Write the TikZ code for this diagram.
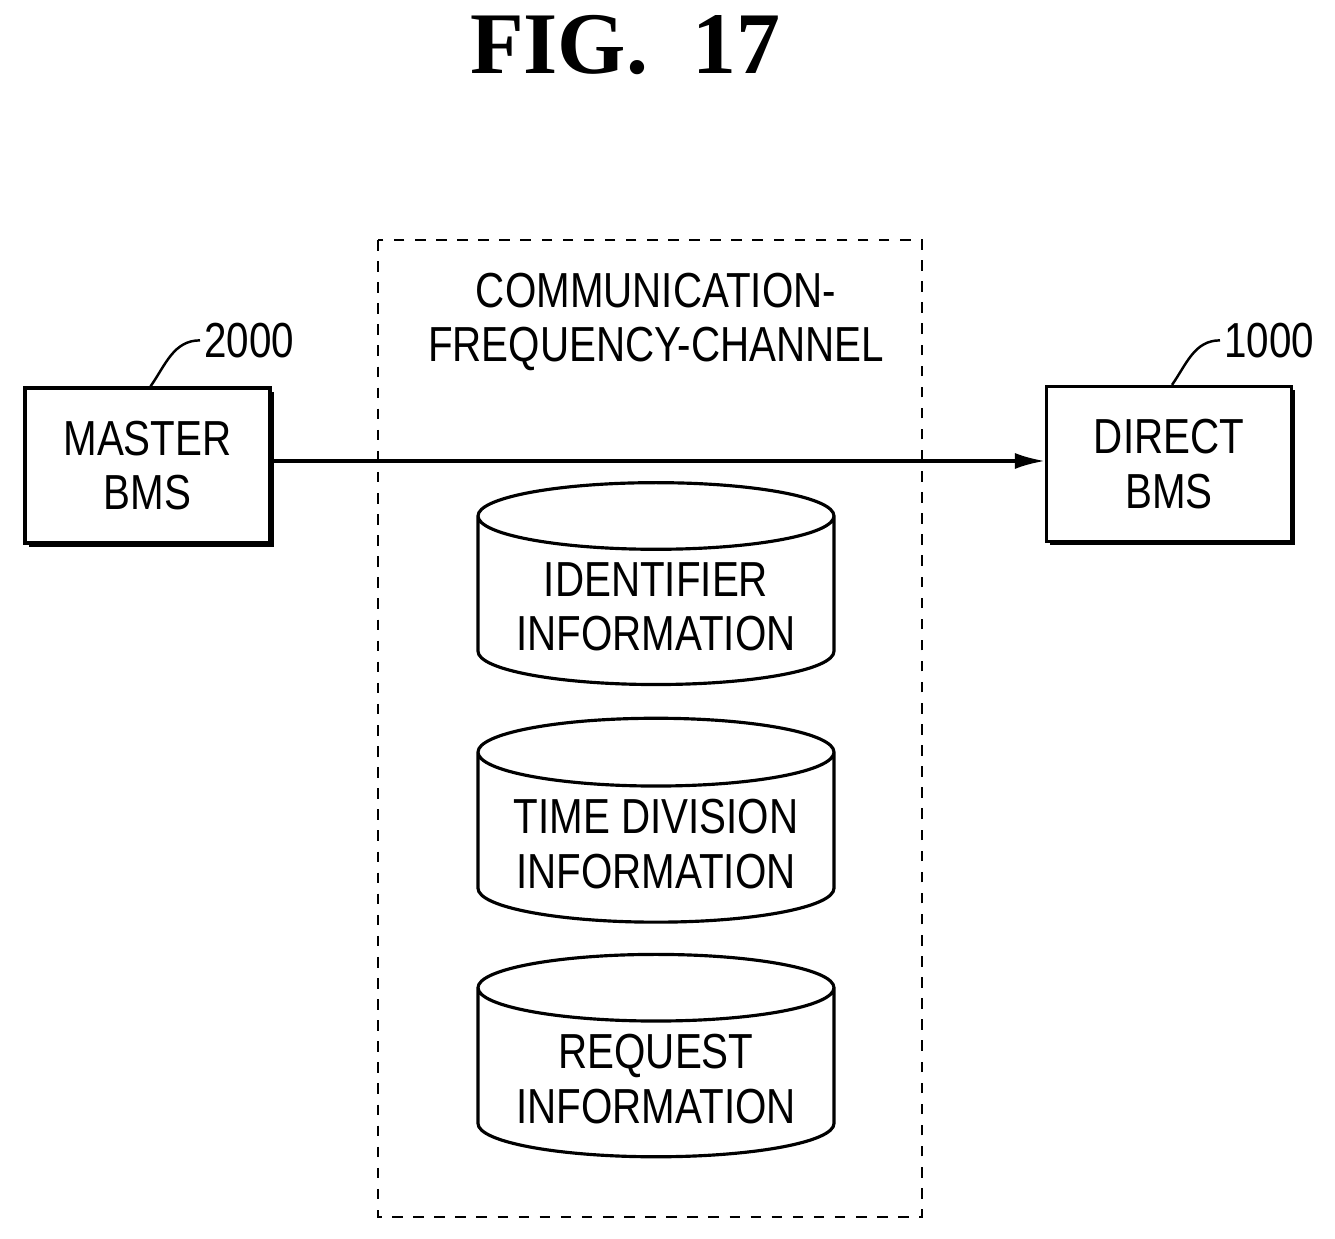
\documentclass[tikz,border=0pt]{standalone}
\usepackage{fontspec}
\setmainfont{Liberation Sans}[FakeStretch=0.82]
\newfontfamily\figfont{Liberation Serif}
\usetikzlibrary{arrows.meta,shapes.geometric,shadows,positioning}

\tikzset{
  bms/.style={draw,line width=0.9pt,fill=white,minimum width=2.45cm,minimum height=1.55cm,
    align=center,drop shadow={shadow xshift=0.04cm,shadow yshift=-0.04cm,opacity=1,fill=black}},
  store/.style={cylinder,shape border rotate=90,draw,line width=0.9pt,aspect=0.22,
    minimum width=3.56cm,minimum height=1.8cm,align=center},
  ref/.style={inner sep=1pt}
}

\begin{document}
\begin{tikzpicture}[x=1cm,y=1cm,font=\fontsize{14}{15.5}\selectfont]
\useasboundingbox (0,0) rectangle (13.35,-12.39);

\node[font=\figfont\bfseries\fontsize{25}{28}\selectfont] (title) at (6.25,-0.45) {FIG.~~17};

% channel
\draw[dashed,line width=0.6pt] (3.78,-2.40) rectangle (9.22,-12.17);
\node[align=center] (chan) at (6.56,-3.22) {COMMUNICATION-\\FREQUENCY-CHANNEL};

\node[bms] (master) at (1.475,-4.655) {MASTER\\BMS};
\node[bms] (direct) at (11.69,-4.64) {DIRECT\\BMS};

\draw[line width=0.9pt,-{Latex[length=3mm,width=1.6mm]}] (master.east |- 0,-4.61) -- (direct.west |- 0,-4.61);

\node[ref,anchor=south west] (m2000) at (2.0,-3.62) {2000};
\node[ref,anchor=south west] (d1000) at (12.2,-3.62) {1000};
\draw[line width=0.7pt] ([xshift=0.03cm]master.north) to[out=55,in=180] (m2000.west);
\draw[line width=0.7pt] ([xshift=0.03cm]direct.north) to[out=55,in=180] (d1000.west);

% data
\node[store] (ident) at (6.56,-6.07) {IDENTIFIER\\INFORMATION};
\node[store] (tdiv) at (6.56,-8.44) {TIME DIVISION\\INFORMATION};
\node[store] (req) at (6.56,-10.79) {REQUEST\\INFORMATION};
\end{tikzpicture}
\end{document}
